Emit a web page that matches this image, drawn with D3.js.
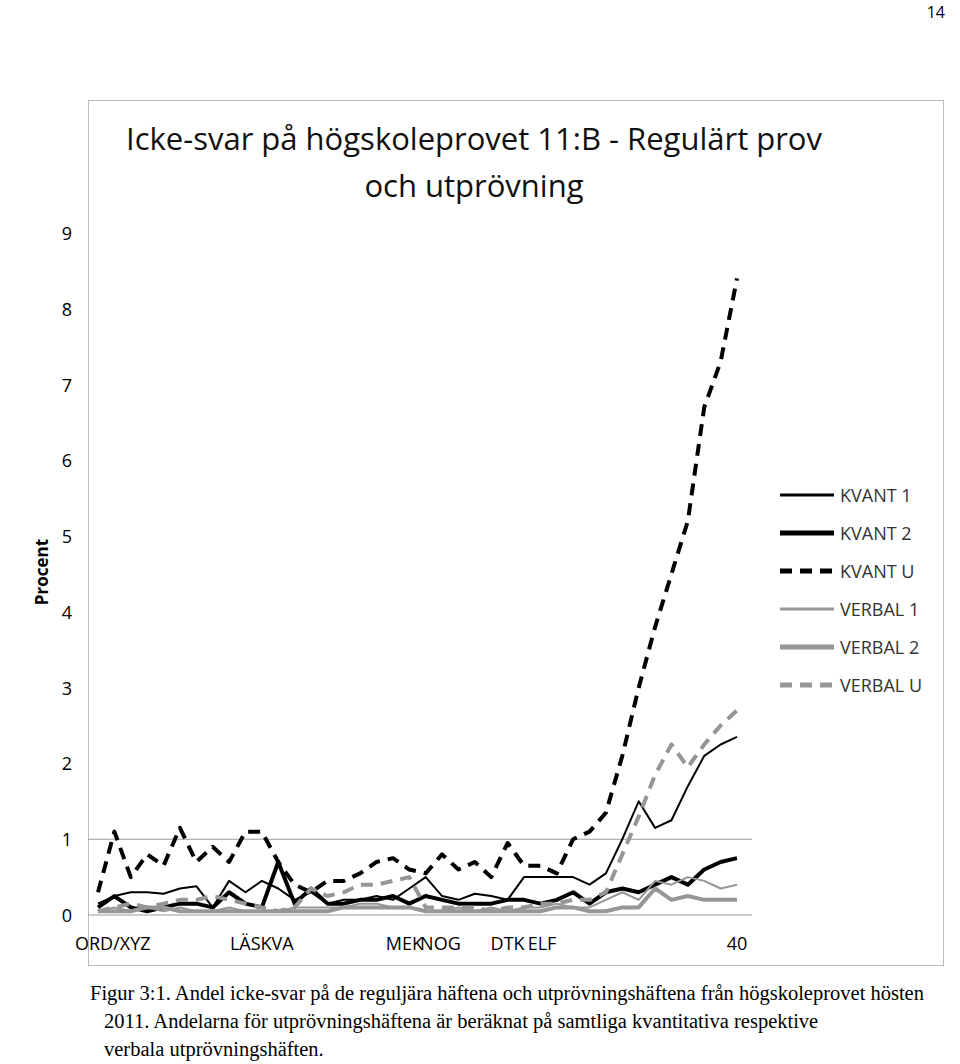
<!DOCTYPE html>
<html><head><meta charset="utf-8">
<script src="https://cdn.jsdelivr.net/npm/d3@7"></script>
<style>body{margin:0;background:#fff}text{font-family:"Open Sans","Liberation Sans",sans-serif}</style>
</head><body><svg id="c" width="960" height="1064"></svg>
<script>
var seriesNames=['KVANT 1','KVANT 2','KVANT U','VERBAL 1','VERBAL 2','VERBAL U'];
var kvant1=[0.15,0.25,0.3,0.3,0.28,0.35,0.38,0.1,0.45,0.3,0.45,0.35,0.2,0.3,0.15,0.2,0.2,0.25,0.2,0.35,0.5,0.25,0.2,0.28,0.25,0.2,0.5,0.5,0.5,0.5,0.4,0.55,1.0,1.5,1.15,1.25,1.7,2.1,2.25,2.35];
var kvant2=[0.1,0.25,0.1,0.05,0.1,0.15,0.15,0.1,0.3,0.15,0.1,0.7,0.15,0.35,0.15,0.15,0.2,0.2,0.25,0.15,0.25,0.2,0.15,0.15,0.15,0.2,0.2,0.15,0.2,0.3,0.15,0.3,0.35,0.3,0.4,0.5,0.4,0.6,0.7,0.75];
var kvantU=[0.3,1.1,0.5,0.8,0.65,1.15,0.7,0.9,0.7,1.1,1.1,0.7,0.4,0.3,0.45,0.45,0.55,0.7,0.75,0.6,0.55,0.8,0.6,0.7,0.5,0.95,0.65,0.65,0.55,1.0,1.1,1.35,2.1,3.0,3.8,4.5,5.2,6.7,7.3,8.4];
var verbal1=[0.05,0.1,0.05,0.1,0.05,0.1,0.05,0.05,0.1,0.05,0.05,0.05,0.1,0.1,0.1,0.1,0.15,0.15,0.1,0.1,0.05,0.05,0.1,0.05,0.1,0.05,0.1,0.1,0.15,0.1,0.1,0.2,0.3,0.2,0.45,0.4,0.5,0.45,0.35,0.4];
var verbal2=[0.05,0.05,0.05,0.1,0.1,0.05,0.05,0.05,0.05,0.05,0.05,0.05,0.05,0.05,0.05,0.1,0.1,0.1,0.1,0.1,0.05,0.05,0.05,0.05,0.05,0.05,0.05,0.05,0.1,0.1,0.05,0.05,0.1,0.1,0.35,0.2,0.25,0.2,0.2,0.2];
var verbalU=[0.05,0.1,0.15,0.1,0.15,0.2,0.2,0.25,0.2,0.15,0.1,0.05,0.1,0.35,0.25,0.3,0.4,0.4,0.45,0.5,0.1,0.1,0.1,0.1,0.05,0.1,0.1,0.15,0.15,0.2,0.2,0.3,0.8,1.3,1.85,2.25,1.95,2.25,2.5,2.7];
var xLabels=[[0.9,'ORD/XYZ'],[10,'LÄSKVA'],[18.7,'MEK'],[20.9,'NOG'],[25,'DTK'],[27.1,'ELF'],[39,'40']];
var yTicks=[0,1,2,3,4,5,6,7,8,9];

var svg=d3.select('#c');
var x=d3.scaleLinear().domain([0,39]).range([98,737]);
var y=d3.scaleLinear().domain([0,9]).range([915,233]);
var styles=[
  {c:'#000',w:2,d:null},{c:'#000',w:4,d:null},{c:'#000',w:4,d:'12,8'},
  {c:'#969696',w:2,d:null},{c:'#969696',w:4,d:null},{c:'#969696',w:4,d:'12,8'}];
var data=[kvant1,kvant2,kvantU,verbal1,verbal2,verbalU];

svg.append('text').attr('x',945).attr('y',18).attr('text-anchor','end').attr('font-size',16).text('14');
svg.append('rect').attr('x',88.5).attr('y',100.5).attr('width',855).attr('height',865).attr('fill','none').attr('stroke','#bbb');
var title=svg.append('text').attr('text-anchor','middle').attr('font-size',31).attr('fill','#111');
title.append('tspan').attr('x',474).attr('y',150).text('Icke-svar på högskoleprovet 11:B - Regulärt prov');
title.append('tspan').attr('x',474).attr('y',197).text('och utprövning');

svg.append('line').attr('x1',88).attr('x2',752).attr('y1',y(1)).attr('y2',y(1)).attr('stroke','#999');
svg.append('line').attr('x1',88).attr('x2',752).attr('y1',y(0)).attr('y2',y(0)).attr('stroke','#999');
svg.selectAll('.yt').data(yTicks).enter().append('text').attr('x',72).attr('y',function(d){return y(d)+7}).attr('text-anchor','end').attr('font-size',18).text(function(d){return d});
svg.append('text').attr('transform','translate(48,572) rotate(-90)').attr('text-anchor','middle').attr('font-size',17).attr('font-weight','bold').text('Procent');
svg.selectAll('.xt').data(xLabels).enter().append('text').attr('x',function(d){return x(d[0])}).attr('y',950).attr('text-anchor','middle').attr('font-size',18).text(function(d){return d[1]});

var line=d3.line().x(function(d,i){return x(i)}).y(function(d){return y(d)});
data.forEach(function(s,k){
  var st=styles[k];
  svg.append('path').attr('d',line(s)).attr('fill','none').attr('stroke',st.c).attr('stroke-width',st.w).attr('stroke-dasharray',st.d).attr('stroke-linejoin','round');
});
seriesNames.forEach(function(n,k){
  var st=styles[k],yy=495+k*38;
  svg.append('line').attr('x1',780).attr('x2',834).attr('y1',yy).attr('y2',yy).attr('stroke',st.c).attr('stroke-width',st.w+1).attr('stroke-dasharray',st.d);
  svg.append('text').attr('x',840).attr('y',yy+7).attr('font-size',18).attr('fill','#333').text(n);
});
var cap=svg.append('text').attr('font-size',20.5).style('font-family','"Liberation Serif",serif');
[['Figur 3:1. Andel icke-svar på de reguljära häftena och utprövningshäftena från högskoleprovet hösten',90,1000],
 ['2011. Andelarna för utprövningshäftena är beräknat på samtliga kvantitativa respektive',104,1028],
 ['verbala utprövningshäften.',104,1056]].forEach(function(l){cap.append('tspan').attr('x',l[1]).attr('y',l[2]).text(l[0])});
</script></body></html>
